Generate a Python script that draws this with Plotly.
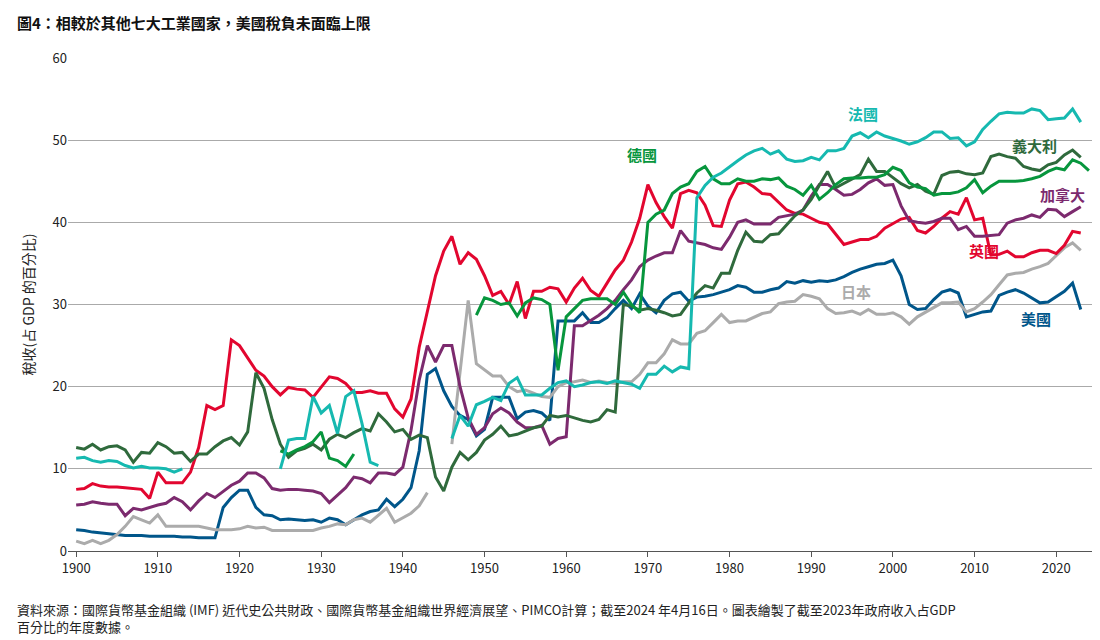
import plotly.graph_objects as go

N = None
us_start = 1900
us = [2.6,2.5,2.3,2.2,2.1,2.0,1.9,1.9,1.9,1.8,1.8,1.8,1.8,1.7,1.7,1.6,1.6,1.6,5.3,6.5,7.4,7.4,5.3,4.4,4.3,3.8,3.9,3.8,3.7,3.8,3.5,4.0,3.8,3.2,3.8,4.4,4.8,5.0,6.3,5.4,6.3,7.7,12.2,21.5,22.2,19.5,17.6,16.5,16.0,14.0,14.8,18.7,18.7,18.7,16.1,16.9,17.1,16.8,15.9,28.0,28.0,28.0,29.0,27.8,27.8,28.4,29.5,30.5,29.5,31.3,29.8,29.0,30.5,31.3,31.5,30.4,30.9,31.0,31.2,31.5,31.8,32.3,32.1,31.5,31.5,31.8,32.0,32.8,32.6,32.9,32.7,32.9,32.8,33.0,33.4,33.9,34.3,34.6,34.9,35.0,35.4,33.5,30.0,29.4,29.5,30.6,31.5,31.8,31.4,28.5,28.8,29.1,29.2,31.1,31.5,31.8,31.4,30.8,30.2,30.3,30.9,31.6,32.6,29.4]
uk_start = 1900
uk = [7.5,7.6,8.2,7.9,7.8,7.8,7.7,7.6,7.5,6.4,9.6,8.3,8.3,8.3,9.6,12.6,17.7,17.2,17.7,25.7,25.0,23.5,22.0,21.3,20.0,19.0,19.9,19.7,19.6,18.7,19.9,21.2,21.0,20.4,19.3,19.3,19.5,19.2,19.2,17.3,16.3,18.5,24.8,29.3,33.5,36.5,38.3,34.9,36.3,35.5,33.5,31.1,31.6,30.0,32.8,28.3,31.6,31.6,32.1,31.9,30.3,32.0,33.2,31.7,31.0,32.6,34.2,35.4,37.6,40.5,44.6,42.4,40.7,39.3,43.5,43.9,43.6,42.1,39.6,39.5,42.7,44.7,44.9,44.3,43.5,43.4,42.5,41.5,41.1,41.0,40.5,40.0,39.8,38.6,37.3,37.6,37.9,37.9,38.3,39.3,39.8,40.4,40.6,39.0,38.7,39.5,40.5,41.3,41.0,43.0,40.3,40.5,36.0,36.1,36.5,35.8,35.8,36.3,36.6,36.6,36.2,37.2,38.9,38.7]
de_start = 1925
de = [12.2,11.8,12.3,12.7,13.3,14.5,11.3,11.0,10.3,11.8] + [N]*14 + [28.7,30.8,30.5,30.0,30.2,28.6,30.2,30.8,30.6,30.0,22.0,28.5,29.5,30.5,30.7,30.7,30.7,30.0,31.5,30.0,29.0,40.0,41.0,41.5,43.5,44.3,44.7,46.2,46.8,45.3,44.7,44.7,45.3,45.0,45.0,45.3,45.2,45.4,44.4,44.0,43.3,44.5,42.8,43.6,44.6,45.3,45.4,45.4,45.5,45.5,45.8,46.7,46.3,44.8,44.3,44.1,43.3,43.5,43.5,43.7,44.2,45.2,43.6,44.4,45.0,45.0,45.0,45.1,45.3,45.6,46.2,46.6,46.4,47.6,47.2,46.3]
fr_start = 1900
fr = [11.3,11.4,11.0,10.8,11.0,10.9,10.4,10.1,10.3,10.1,10.1,10.0,9.6,10.0] + [N]*11 + [10.0,13.5,13.7,13.7,18.8,16.8,17.7,14.3,18.8,19.5,15.5,10.8,10.4] + [N]*8 + [13.7,16.5,15.2,17.8,18.2,18.7,18.3,20.4,21.1,19.0,19.0,19.0,19.8,20.5,20.7,20.0,20.2,20.5,20.6,20.4,20.7,20.5,20.3,19.8,21.5,21.5,22.5,21.8,22.4,22.2,43.0,44.5,45.5,46.0,46.8,47.5,48.2,48.7,49.0,48.3,48.7,47.7,47.4,47.5,47.9,47.6,48.7,48.7,49.0,50.5,50.9,50.3,51.0,50.5,50.2,49.9,49.5,49.8,50.3,51.0,51.0,50.2,50.3,49.3,49.8,51.3,52.3,53.2,53.4,53.3,53.3,53.8,53.6,52.5,52.6,52.7,53.8,52.2]
it_start = 1900
it = [12.6,12.4,13.0,12.3,12.7,12.8,12.3,10.8,12.0,11.9,13.2,12.7,11.9,12.0,10.9,11.8,11.8,12.7,13.4,13.8,12.9,14.5,21.7,19.8,16.0,13.0,11.4,12.2,12.5,13.0,12.3,13.6,14.2,13.8,14.4,14.9,14.6,16.7,15.7,14.5,14.8,13.6,14.1,13.8,9.0,7.3,10.2,12.0,11.1,12.0,13.5,14.2,15.2,14.0,14.2,14.6,15.0,15.2,16.5,16.3,16.5,16.2,15.9,15.7,16.0,17.2,16.9,30.0,29.8,29.3,29.5,29.3,29.0,28.6,28.8,30.2,31.4,32.3,32.0,33.8,33.8,36.6,38.8,37.7,37.6,38.5,38.6,39.7,40.8,41.5,42.8,44.5,46.2,44.2,44.7,45.2,45.8,47.7,46.2,46.2,45.5,44.7,44.2,44.6,43.8,43.4,45.7,46.1,46.2,45.9,45.8,46.0,48.0,48.3,48.0,47.8,46.8,46.5,46.3,47.0,47.3,48.2,48.8,47.9]
ca_start = 1900
ca = [5.6,5.7,6.0,5.8,5.7,5.7,4.3,5.2,5.0,5.3,5.6,5.8,6.5,6.0,5.0,6.1,7.0,6.5,7.3,8.0,8.5,9.5,9.5,8.9,7.6,7.4,7.5,7.5,7.4,7.3,7.0,5.9,6.8,7.7,9.0,8.8,8.3,9.5,9.5,9.3,10.2,14.7,20.8,25.0,23.0,25.0,25.0,20.0,16.2,14.2,15.0,16.7,17.4,16.8,15.7,15.0,15.0,15.3,13.0,13.7,13.9,27.4,27.4,28.0,28.7,29.5,30.5,31.8,33.0,34.6,35.4,35.9,36.3,36.3,39.0,37.7,37.5,37.3,36.9,36.7,38.2,40.0,40.3,39.8,39.8,39.8,40.6,40.8,41.0,41.5,43.2,44.6,44.6,44.0,43.3,43.4,44.0,44.8,45.3,44.5,44.6,42.0,40.2,40.0,39.9,40.1,40.5,40.5,39.1,39.5,38.3,38.3,38.4,38.5,39.9,40.3,40.5,40.9,40.6,41.6,41.5,40.7,41.3,41.9]
jp_start = 1900
jp = [1.2,0.9,1.3,0.9,1.3,2.0,3.0,4.2,3.8,3.4,4.4,3.0,3.0,3.0,3.0,3.0,2.8,2.6,2.6,2.6,2.7,3.0,2.8,2.9,2.5,2.5,2.5,2.5,2.5,2.5,2.8,3.0,3.3,3.2,3.8,4.0,3.5,4.3,5.2,3.5,4.0,4.6,5.5,7.1,N,N,13.0,22.0,30.5,22.8,22.0,21.3,21.3,20.0,19.4,19.6,19.2,18.8,18.7,20.0,20.5,20.6,20.8,20.5,20.7,20.5,20.4,20.6,20.6,21.5,22.9,22.9,24.0,25.7,25.2,25.2,26.5,26.8,27.8,28.8,27.8,28.0,28.0,28.5,28.9,29.1,30.1,30.3,30.4,31.2,31.0,30.7,29.5,28.9,29.0,29.2,28.8,29.4,28.8,28.8,29.0,28.5,27.6,28.5,29.1,29.7,30.2,30.2,30.3,29.1,29.5,30.3,31.2,32.4,33.6,33.8,33.9,34.3,34.6,35.0,36.0,36.9,37.5,36.6]

series = [
    ("美國", us_start, us, "#00568a", 2017.5, 28.3),
    ("日本", jp_start, jp, "#ababab", 1995.5, 31.6),
    ("英國", uk_start, uk, "#e2062f", 2011.2, 36.6),
    ("加拿大", ca_start, ca, "#7c2a6e", 2020.8, 43.4),
    ("義大利", it_start, it, "#2f6a3c", 2017.3, 49.3),
    ("德國", de_start, de, "#07963d", 1969.3, 48.3),
    ("法國", fr_start, fr, "#16b9b0", 1996.3, 53.3),
]

fig = go.Figure()
for name, start, vals, col, lx, ly in series:
    fig.add_trace(go.Scatter(x=list(range(start, start + len(vals))), y=vals, mode="lines",
                             line=dict(color=col, width=3), name=name, connectgaps=False))
    fig.add_annotation(x=lx, y=ly, text=f"<b>{name}</b>", showarrow=False,
                       font=dict(color=col, size=15, family="Noto Sans CJK TC"))

fig.update_layout(
    width=1100, height=640, showlegend=False,
    plot_bgcolor="white", paper_bgcolor="white",
    margin=dict(l=60, r=15, t=50, b=97),
    font=dict(family="Noto Sans CJK TC", size=13, color="#222"),
    xaxis=dict(range=[1899, 2024.5], tickvals=list(range(1900, 2021, 10)), showgrid=False,
               showline=True, linecolor="#555", ticks="outside", ticklen=5, tickcolor="#555",
               zeroline=False),
    yaxis=dict(range=[0, 60], tickvals=list(range(0, 61, 10)), showgrid=True, gridcolor="#aaa",
               zeroline=False, showline=False, ticks="",
               title=dict(text="稅收(占 GDP 的百分比)", font=dict(size=14), standoff=14)),
)
fig.add_annotation(xref="paper", yref="paper", x=-0.052, y=1.098, xanchor="left", yanchor="top",
                   text="<b>圖4：相較於其他七大工業國家，美國稅負未面臨上限</b>", showarrow=False,
                   font=dict(size=15, color="#111"))
fig.add_annotation(xref="paper", yref="paper", x=-0.052, y=-0.095, xanchor="left", yanchor="top",
                   align="left", showarrow=False, font=dict(size=13, color="#222"),
                   text="資料來源：國際貨幣基金組織 (IMF) 近代史公共財政、國際貨幣基金組織世界經濟展望、PIMCO計算；截至2024 年4月16日。圖表繪製了截至2023年政府收入占GDP<br>百分比的年度數據。")
fig.write_html("out.html")
